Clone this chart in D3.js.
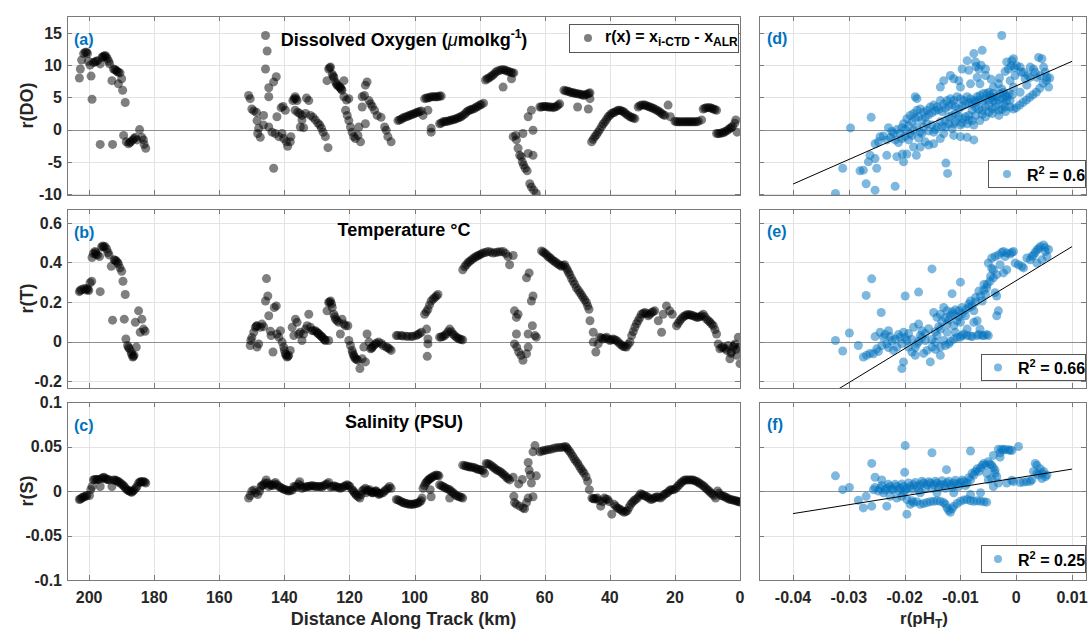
<!doctype html>
<html lang="en">
<head>
<meta charset="utf-8">
<title>Residuals along track</title>
<style>
  body { margin: 0; background: #fff; }
  svg { display: block; font-family: "Liberation Sans", Arial, sans-serif; }
</style>
</head>
<body>
<svg id="chart"></svg>
<script src="https://d3js.org/d3.v7.min.js"></script>
<script>
// ---- values ----
var distTicks = [200, 180, 160, 140, 120, 100, 80, 60, 40, 20, 0];
var phTicks = [-0.04, -0.03, -0.02, -0.01, 0, 0.01];
var doTicks = [-10, -5, 0, 5, 10, 15];
var tTicks = [-0.2, 0, 0.2, 0.4, 0.6];
var sTicks = [-0.1, -0.05, 0, 0.05, 0.1];
var yLabels = ["r(DO)", "r(T)", "r(S)"];
var tagsLeft = ["(a)", "(b)", "(c)"];
var tagsRight = ["(d)", "(e)", "(f)"];
var r2Values = ["0.6", "0.66", "0.25"];

// [distance along track (km), residual]
var doAlong = [
[203.0,8.0],[202.7,9.4],[202.3,10.8],[201.7,11.8],[201.2,12.0],[200.5,11.8],[200.2,10.6],[199.7,10.0],[199.4,8.3],[199.1,4.7],
[198.2,10.5],[197.4,10.7],[196.6,10.2],[196.6,-2.3],[195.8,11.3],[195.1,11.5],[194.4,11.0],[193.7,10.2],[193.0,7.6],[192.8,-2.3],
[192.5,9.4],[191.7,9.2],[191.0,8.9],[190.5,8.8],[191.0,7.1],[190.0,7.9],[189.7,6.1],[188.9,4.2],[189.4,-0.9],[188.6,-1.9],
[187.9,-2.2],[187.2,-1.9],[186.6,-1.6],[185.8,-1.2],[185.3,-1.6],[184.5,0.0],[183.8,-1.2],[183.3,-1.6],[183.1,-2.3],[182.6,-2.9],
[200.8,12.0],[198.7,10.4],[197.8,10.6],[196.0,11.2],[195.4,11.4],[194.8,11.3],[194.0,10.6],[192.1,9.3],[191.4,9.0],[187.5,-2.0],[186.2,-1.4],
[151.0,5.3],[150.5,4.8],[150.0,3.2],[149.4,2.9],[148.6,2.7],[148.4,1.4],[147.9,0.2],[148.2,-0.6],[147.4,-1.2],[145.8,14.6],
[145.3,12.2],[145.8,9.4],[144.8,6.5],[144.8,5.1],[146.4,2.2],[146.4,0.7],[144.8,0.4],[143.8,-0.4],[143.3,-6.0],[143.3,7.4],
[142.5,8.2],[142.3,2.0],[142.8,-0.6],[141.7,-1.1],[141.0,3.4],[140.4,3.6],[139.7,3.0],[140.7,-0.6],[140.2,-1.4],[139.4,-1.9],
[139.0,-2.6],[138.2,-1.9],[138.0,-1.1],[137.4,4.5],[136.7,5.1],[136.1,4.5],[136.7,3.0],[135.9,2.7],[135.3,2.5],[134.6,2.2],
[135.1,0.4],[134.6,1.5],[134.1,0.3],[133.2,4.9],[132.5,4.5],[133.5,2.5],[132.0,2.2],[131.2,1.9],[130.5,1.5],[129.7,1.0],
[129.1,0.7],[128.6,0.2],[128.1,-0.4],[127.4,-1.1],[126.6,-2.8],[126.9,7.6],[126.4,9.4],[125.8,9.7],[125.3,8.6],[124.8,8.1],
[124.3,7.4],[123.8,6.9],[123.3,6.7],[122.8,6.5],[122.3,6.1],[121.7,7.6],[121.7,5.1],[120.9,4.6],[120.2,4.8],[121.2,3.0],
[120.7,2.2],[120.2,1.4],[119.7,0.4],[119.2,-0.4],[118.7,-1.1],[118.2,-1.4],[117.4,-0.9],[117.1,0.4],[116.6,-1.9],[116.1,3.5],
[116.1,5.1],[115.4,5.3],[115.1,6.9],[114.6,7.4],[115.1,0.9],[114.0,4.5],[113.5,4.0],[113.0,3.6],[112.3,3.0],[111.5,2.2],
[110.3,1.9],[109.2,0.4],[108.7,-0.1],[108.2,-1.1],[107.2,-1.9],
[126.1,9.6],[125.0,8.3],[124.0,7.1],[123.0,6.6],[122.5,6.3],[137.0,4.8],[136.4,4.8],
[105.1,1.4],[104.1,1.6],[103.1,1.9],[102.0,2.1],[101.0,2.3],[100.0,2.5],[99.0,2.7],[97.9,2.9],[97.4,2.2],[95.9,3.0],
[94.9,0.2],[94.9,-0.4],[96.9,4.8],[95.9,4.9],[94.9,5.1],[93.8,5.1],[92.8,5.1],[91.8,5.2],[92.3,0.9],[91.3,1.2],
[90.3,1.3],[89.2,1.4],[88.2,1.5],[87.2,1.7],[86.2,1.9],[85.2,2.2],[84.1,2.7],[83.1,3.0],[82.1,3.2],[81.0,3.5],
[80.0,3.8],[78.8,4.1],[78.2,7.7],[77.2,8.0],[76.1,8.4],[75.1,8.9],[73.8,9.2],[72.6,9.3],[71.6,9.1],[70.5,8.9],
[69.5,8.8],[72.8,6.6],[70.2,7.9],[69.7,-1.1],[68.9,-0.9],[68.7,-1.6],[68.2,-2.9],[67.7,-4.0],[67.2,-4.2],[66.9,-5.0],
[66.5,-5.5],[66.0,-6.0],[65.4,-6.4],[66.7,-0.6],[65.1,2.0],[64.1,3.0],[63.6,-0.1],[63.6,-4.0],[65.1,-3.7],[64.6,-8.4],
[64.1,-8.9],[63.4,-9.4],[62.6,-9.9],[61.5,3.5],[60.5,3.6],[59.5,3.6],[58.5,3.5],[57.4,3.4],[56.4,3.6],[55.4,4.0],
[54.1,6.1],[53.1,6.0],[52.1,5.8],[51.1,5.7],[50.1,5.6],[49.0,5.5],[48.0,5.3],[47.0,5.5],[46.1,5.7],[49.9,3.5],
[46.6,3.2],[46.1,4.8],[45.6,-1.9],[44.6,-1.1],[43.6,-0.4],[42.5,0.5],[41.5,1.2],[40.5,2.0],[39.5,2.5],[38.5,2.7],
[37.4,3.0],[36.4,2.9],[35.4,2.6],[34.4,2.2],[33.3,1.9],[32.3,1.7],[31.3,3.5],[30.3,3.8],[29.2,3.8],[28.2,3.6],
[27.2,3.4],[26.2,3.2],[25.1,2.9],[24.1,2.5],[23.1,2.2],[22.1,3.8],[21.4,2.0],[20.0,1.3],[19.0,1.2],[18.0,1.2],
[16.9,1.2],[15.9,1.2],[14.9,1.2],[13.9,1.2],[12.8,1.3],[11.8,1.5],[11.3,3.2],[10.3,3.4],[9.2,3.4],[8.2,3.2],
[7.2,3.0],[7.2,-0.6],[6.2,-0.6],[5.1,-0.5],[4.1,-0.2],[3.1,0.2],[2.3,0.5],[1.6,1.0],[1.3,1.5],[0.9,-0.4],
[104.6,1.5],[103.6,1.8],[102.5,2.0],[101.5,2.2],[100.5,2.4],[99.5,2.6],[98.5,2.8],[96.4,4.9],[95.4,5.0],[94.3,5.1],
[93.3,5.1],[92.3,5.2],[91.8,1.0],[90.8,1.2],[89.7,1.3],[88.7,1.5],[87.7,1.6],[86.7,1.8],[85.7,2.0],[84.6,2.4],
[83.6,2.9],[82.6,3.1],[81.5,3.3],[80.5,3.6],[79.5,3.9],[77.7,7.9],[76.6,8.2],[75.6,8.6],[74.5,9.1],[73.2,9.3],
[72.1,9.2],[71.0,9.0],[70.0,8.8],[61.0,3.5],[60.0,3.6],[59.0,3.5],[58.0,3.5],[56.9,3.5],[55.9,3.8],[53.6,6.0],
[52.6,5.9],[51.6,5.7],[50.6,5.6],[49.5,5.5],[48.5,5.4],[47.5,5.4],[46.5,5.6],[45.1,-1.5],[44.1,-0.8],[43.1,0.0],
[42.0,0.9],[41.0,1.6],[40.0,2.2],[39.0,2.6],[37.9,2.9],[36.9,3.0],[35.9,2.8],[34.9,2.4],[33.8,2.0],[32.8,1.8],
[30.8,3.7],[29.7,3.8],[28.7,3.7],[27.7,3.5],[26.7,3.3],[25.6,3.0],[24.6,2.7],[23.6,2.3],[19.5,1.2],[18.5,1.2],
[17.4,1.2],[16.4,1.2],[15.4,1.2],[14.4,1.2],[13.3,1.2],[10.8,3.3],[9.7,3.4],[8.7,3.3],[7.7,3.1],[6.7,-0.6],
[5.6,-0.5],[4.6,-0.3],[3.6,0.0],[2.7,0.3]
];

var tAlong = [
[203.0,0.252],[202.3,0.263],[201.5,0.268],[201.0,0.26],[200.7,0.268],[200.1,0.258],[199.7,0.297],[199.2,0.305],[199.1,0.425],[198.7,0.445],
[198.2,0.455],[197.9,0.44],[197.4,0.438],[196.8,0.43],[196.6,0.252],[195.8,0.483],[195.5,0.478],[195.1,0.48],[194.6,0.468],[193.9,0.438],
[193.2,0.38],[192.8,0.108],[192.3,0.413],[191.7,0.408],[191.0,0.392],[190.5,0.372],[190.0,0.355],[189.6,0.305],[189.2,0.113],[188.9,0.238],
[188.7,0.013],[188.2,-0.02],[187.6,-0.037],[187.1,-0.053],[186.6,-0.078],[186.2,-0.07],[185.5,-0.028],[185.8,0.097],[184.8,0.155],[183.8,0.113],
[183.3,0.063],[182.8,0.052],[184.3,0.047],
[202.7,0.258],[200.4,0.263],[198.0,0.45],[196.2,0.478],[194.2,0.45],[192.0,0.41],[191.3,0.4],[187.9,-0.03],[186.9,-0.065],[186.4,-0.075],
[150.5,-0.02],[150.3,0.005],[150.0,0.02],[149.4,0.047],[148.9,0.072],[148.4,0.08],[147.9,-0.012],[148.4,-0.028],[147.4,0.072],[146.9,0.088],
[146.4,0.075],[145.8,0.205],[145.5,0.318],[145.1,0.23],[144.8,0.13],[144.3,0.052],[144.1,0.03],[143.5,-0.053],[143.1,0.172],[142.5,0.18],
[142.3,0.038],[141.7,0.022],[141.2,0.055],[140.7,-0.003],[140.2,-0.028],[139.7,-0.062],[139.2,-0.078],[138.7,-0.07],[138.2,-0.045],[137.6,0.072],
[137.1,0.03],[136.6,0.113],[136.1,0.097],[135.6,0.038],[135.1,0.047],[134.6,0.005],[134.1,0.038],[133.5,0.063],[132.5,0.138],[133.0,0.08],
[132.0,0.072],[131.5,0.055],[130.5,0.055],[130.0,0.047],[129.4,0.038],[128.9,0.03],[128.4,0.022],[127.9,0.013],[127.4,0.005],[126.4,0.005],
[126.9,0.155],[126.4,0.197],[125.8,0.205],[125.3,0.172],[124.8,0.138],[124.3,0.113],[123.8,0.105],[123.3,0.097],[122.8,0.038],[122.3,0.113],
[121.7,0.088],[121.2,0.08],[120.5,0.08],[120.2,0.005],[119.7,-0.02],[119.2,-0.045],[118.7,-0.07],[118.2,-0.087],[117.4,-0.095],[116.8,-0.137],
[116.1,-0.087],[115.6,-0.028],[115.1,-0.103],[114.6,0.038],[114.0,-0.003],[113.5,-0.037],[113.0,-0.028],[112.5,-0.02],[111.7,-0.008],[111.0,-0.003],
[109.7,-0.02],[108.7,-0.028],[107.7,-0.037],[107.2,-0.045],
[148.6,0.078],[140.0,-0.045],[139.5,-0.07],[138.9,-0.075],[131.0,0.055],[129.7,0.042],[128.6,0.026],[127.6,0.009],[126.1,0.2],[125.5,0.19],
[124.5,0.125],[119.0,-0.058],[118.5,-0.078],[117.8,-0.09],[113.2,-0.033],[112.0,-0.012],[110.2,-0.01],[108.2,-0.032],
[105.6,0.03],[104.1,0.03],[102.6,0.027],[101.0,0.025],[99.5,0.03],[97.9,0.047],[96.9,0.138],[95.9,0.163],[94.9,0.205],[93.8,0.222],
[92.8,0.238],[96.3,0.063],[95.9,0.013],[95.9,-0.012],[96.1,-0.075],[92.3,0.022],[91.3,0.025],[90.3,0.038],[89.2,0.063],[88.2,0.038],
[87.2,0.022],[86.2,0.013],[85.2,0.008],[85.2,0.363],[84.1,0.388],[83.1,0.405],[82.1,0.418],[81.0,0.43],[80.0,0.438],[79.0,0.447],
[77.5,0.455],[75.9,0.447],[74.4,0.452],[72.8,0.455],[71.3,0.43],[70.8,0.388],[69.7,0.435],[69.3,0.155],[68.7,0.122],[68.2,0.138],
[68.7,0.038],[69.3,-0.012],[68.6,-0.028],[68.0,-0.053],[67.3,-0.07],[66.7,-0.095],[65.6,-0.062],[65.1,-0.028],[65.1,0.038],[65.6,0.322],
[64.8,0.347],[64.1,0.205],[63.6,0.23],[63.8,0.08],[63.0,0.03],[62.6,0.022],[61.0,0.458],[60.0,0.447],[59.0,0.43],[58.0,0.418],
[57.0,0.405],[55.9,0.392],[54.9,0.38],[53.9,0.388],[53.1,0.363],[52.3,0.338],[51.3,0.305],[50.3,0.272],[49.2,0.247],[48.2,0.222],
[47.2,0.197],[46.4,0.163],[46.1,0.105],[45.1,0.047],[45.1,-0.003],[44.3,-0.053],[43.6,-0.012],[43.1,0.022],[42.1,0.013],[41.0,0.022],
[40.0,0.005],[39.0,0.013],[38.0,0.005],[36.9,-0.012],[35.9,-0.025],[34.9,-0.028],[33.8,-0.003],[33.3,0.03],[32.3,0.072],[31.3,0.105],
[30.3,0.138],[29.2,0.147],[28.2,0.13],[27.2,0.147],[26.2,0.155],[25.1,0.105],[24.1,0.047],[23.6,0.138],[22.6,0.18],[21.6,0.155],
[20.8,0.138],[19.5,0.08],[18.5,0.105],[17.4,0.125],[16.4,0.135],[15.4,0.135],[14.4,0.13],[13.3,0.122],[12.3,0.125],[11.3,0.138],
[10.3,0.113],[9.2,0.097],[8.2,0.08],[7.2,0.038],[6.7,-0.012],[6.2,-0.037],[5.1,-0.028],[4.1,-0.045],[3.6,-0.02],[3.1,-0.087],
[2.6,-0.053],[2.1,-0.028],[1.5,-0.012],[1.0,-0.07],[0.5,0.022],[0.0,-0.112],[0.2,-0.028],
[105.1,0.03],[103.6,0.028],[102.0,0.026],[100.5,0.027],[99.0,0.035],[98.5,0.04],[96.4,0.15],[95.4,0.185],[94.3,0.215],[93.3,0.23],
[91.8,0.023],[90.8,0.03],[89.7,0.05],[88.7,0.05],[87.7,0.03],[86.7,0.018],[85.7,0.01],[84.6,0.378],[83.6,0.398],[82.6,0.412],
[81.5,0.425],[80.5,0.435],[79.5,0.443],[78.2,0.45],[76.7,0.452],[75.1,0.45],[73.6,0.454],[72.0,0.445],[60.5,0.452],[59.5,0.44],
[58.5,0.425],[57.5,0.41],[56.5,0.398],[55.4,0.386],[54.4,0.384],[53.5,0.375],[52.7,0.35],[51.8,0.32],[50.8,0.29],[49.7,0.26],
[48.7,0.235],[47.7,0.21],[46.8,0.18],[42.6,0.018],[41.5,0.017],[40.5,0.013],[39.5,0.009],[38.5,0.009],[37.4,-0.003],[36.4,-0.018],
[35.4,-0.027],[34.4,-0.015],[32.8,0.05],[31.8,0.09],[30.8,0.12],[29.7,0.143],[28.7,0.14],[27.7,0.138],[26.7,0.15],[19.0,0.092],
[18.0,0.115],[16.9,0.13],[15.9,0.135],[14.9,0.133],[13.8,0.126],[12.8,0.123],[11.8,0.13],[10.8,0.125],[9.7,0.105],[8.7,0.088],
[7.7,0.06],[5.6,-0.03],[4.6,-0.035],[2.8,-0.06],[1.8,-0.02],[1.2,-0.04]
];

var sAlong = [
[203.0,-0.0095],[202.3,-0.008],[201.5,-0.0065],[200.7,-0.005],[199.9,-0.005],[199.5,0.0015],[199.1,0.005],[198.7,0.0125],[197.8,0.013],[197.0,0.013],
[196.6,0.005],[196.1,0.014],[195.4,0.0155],[194.6,0.013],[193.7,0.0125],[193.0,0.005],[192.5,0.0125],[191.7,0.012],[190.9,0.0105],[190.0,0.008],
[189.2,0.005],[188.4,0.0015],[187.6,0.0],[186.9,-0.0015],[186.2,0.001],[185.3,0.005],[184.8,0.009],[184.1,0.0105],[183.3,0.0105],[182.6,0.009],
[202.7,-0.009],[201.9,-0.007],[201.1,-0.006],[198.3,0.013],[197.4,0.013],[195.8,0.015],[195.0,0.014],[194.2,0.0128],[192.1,0.012],[191.3,0.011],
[190.5,0.009],[189.6,0.0065],[188.8,0.003],[188.0,0.0005],[187.2,-0.001],[186.6,0.0],[185.7,0.003],[184.4,0.01],[183.7,0.0105],[182.9,0.01],
[151.0,-0.008],[150.5,-0.005],[150.0,0.0],[149.4,0.001],[148.9,-0.002],[148.2,-0.004],[147.6,0.0],[147.2,0.005],[146.4,0.007],[145.6,0.0125],
[144.8,0.005],[144.3,0.007],[143.5,0.006],[142.8,0.0095],[141.7,0.005],[140.7,0.003],[139.7,0.0015],[138.7,0.0],[137.6,0.001],[137.1,0.005],
[136.1,0.0045],[135.3,0.0105],[134.6,0.003],[133.5,0.0045],[132.5,0.005],[131.5,0.006],[130.5,0.005],[129.4,0.005],[128.4,0.0045],[127.4,0.007],
[126.4,0.0095],[125.8,0.0045],[124.8,0.006],[123.8,0.0045],[122.8,0.003],[121.7,0.005],[120.7,0.007],[119.9,0.005],[119.2,0.0015],[118.5,-0.002],
[117.8,-0.005],[116.8,-0.008],[116.1,0.0],[115.1,0.003],[114.0,0.0],[113.0,-0.002],[112.0,0.0],[111.0,-0.004],
[114.9,-0.002],[113.8,0.0015],[112.8,-0.002],[111.8,0.0],[110.8,-0.003],[109.7,-0.002],[108.7,0.0015],[107.7,0.005],[107.2,0.003],
[146.9,0.006],[146.0,0.009],[145.2,0.009],[144.0,0.0065],[143.1,0.008],[142.2,0.007],[141.2,0.004],[140.2,0.002],[139.2,0.0008],[138.2,0.0005],
[136.6,0.0048],[135.7,0.008],[135.0,0.006],[134.0,0.004],[133.0,0.005],[132.0,0.0055],[131.0,0.0055],[130.0,0.005],[128.9,0.005],[127.9,0.006],
[126.9,0.008],[125.3,0.005],[124.3,0.005],[123.3,0.004],[122.3,0.004],[121.2,0.006],[120.3,0.006],[118.8,0.0],[118.1,-0.0035],[117.3,-0.0065],
[116.4,-0.004],[115.6,0.0015],[114.5,0.001],[113.4,-0.001],[112.4,-0.001],[111.4,-0.002],[110.3,-0.0025],[109.2,0.0],[108.2,0.003],
[105.6,-0.0095],[104.6,-0.011],[103.6,-0.013],[102.6,-0.014],[101.5,-0.015],[100.5,-0.015],[99.5,-0.014],[98.5,-0.0125],[97.7,-0.008],[97.4,0.003],
[96.6,0.009],[95.9,0.012],[95.2,0.014],[94.4,0.016],[93.3,0.018],[92.5,0.017],[95.2,0.0015],[94.9,-0.0065],[92.3,0.007],[91.3,0.005],
[90.3,0.003],[89.2,0.0015],[89.2,-0.008],[88.2,-0.002],[87.2,-0.005],[86.2,-0.0065],[85.2,-0.008],[85.2,0.029],[84.1,0.028],[83.1,0.027],
[82.1,0.0265],[81.0,0.025],[80.0,0.024],[79.0,0.023],[78.5,0.02],[78.0,0.031],[77.0,0.030],[75.9,0.027],[74.9,0.024],[73.8,0.022],
[72.8,0.019],[71.8,0.0155],[70.8,0.0125],[69.7,0.0155],[69.5,-0.006],[69.3,-0.013],[68.7,-0.015],[68.0,0.008],[67.7,-0.017],[66.9,0.013],
[66.7,-0.019],[66.2,-0.02],[65.6,-0.013],[65.1,0.032],[64.8,0.0235],[64.4,0.018],[64.1,0.009],[65.1,-0.008],[63.6,-0.0065],[63.6,0.044],
[63.0,0.051],[62.6,0.017],[60.8,0.045],[59.5,0.046],[58.0,0.047],[56.4,0.0485],[54.9,0.049],[53.6,0.05],[52.9,0.047],[51.9,0.042],
[50.9,0.036],[49.9,0.031],[48.9,0.025],[47.9,0.02],[46.8,0.011],[46.3,0.0015],[45.5,-0.008],[44.8,-0.009],[43.8,-0.008],[42.8,-0.017],
[41.7,-0.008],[40.7,-0.0095],[39.4,-0.026],[38.7,-0.015],[37.7,-0.019],[36.7,-0.021],[35.6,-0.024],[34.6,-0.022],[33.6,-0.015],[32.6,-0.011],
[31.5,-0.008],[30.5,-0.003],[29.5,-0.005],[28.5,-0.0065],[27.4,-0.0095],[26.4,-0.008],[25.4,-0.0065],[24.4,-0.008],[23.3,-0.004],[22.3,-0.002],
[21.3,0.0015],[20.3,0.0015],[19.2,0.005],[18.2,0.009],[17.2,0.012],[16.2,0.0125],[15.1,0.0125],[14.1,0.012],[13.1,0.0105],[12.1,0.008],
[11.0,0.005],[10.0,0.0015],[9.0,-0.002],[8.0,-0.005],[6.9,0.0],[7.5,-0.008],[5.9,-0.005],[4.9,-0.006],[3.9,-0.008],[2.9,-0.0095],
[1.8,-0.0105],[0.8,-0.0115],[0.0,-0.0125],
[105.1,-0.01],[104.1,-0.012],[103.1,-0.0135],[102.1,-0.0145],[101.0,-0.015],[100.0,-0.0145],[99.0,-0.0135],[98.0,-0.011],[97.0,0.006],[96.2,0.0105],
[95.5,0.013],[94.8,0.015],[93.9,0.017],[92.9,0.0175],[91.8,0.006],[90.8,0.004],[89.7,0.002],[88.7,-0.0005],[87.7,-0.0035],[86.7,-0.006],
[85.7,-0.007],[84.6,0.0285],[83.6,0.0275],[82.6,0.027],[81.5,0.026],[80.5,0.0245],[79.5,0.0235],[77.5,0.0305],[76.4,0.0285],[75.4,0.0255],
[74.4,0.023],[73.3,0.0205],[72.3,0.0175],[71.3,0.014],[61.5,0.044],[60.2,0.0455],[58.8,0.0465],[57.2,0.048],[55.6,0.0488],[54.2,0.0495],
[53.2,0.0485],[52.4,0.0445],[51.4,0.039],[50.4,0.0335],[49.4,0.028],[48.4,0.0225],[47.3,0.016],[45.1,-0.0085],[44.3,-0.0085],[43.3,-0.011],
[42.2,-0.012],[41.2,-0.009],[40.2,-0.012],[38.2,-0.017],[37.2,-0.02],[36.2,-0.0225],[35.1,-0.023],[34.1,-0.0185],[33.1,-0.013],[32.1,-0.0095],
[31.0,-0.0055],[30.0,-0.004],[29.0,-0.006],[28.0,-0.008],[26.9,-0.009],[25.9,-0.007],[24.9,-0.007],[23.8,-0.006],[22.8,-0.003],[21.8,0.0],
[20.8,0.0015],[19.7,0.003],[18.7,0.007],[17.7,0.0105],[16.7,0.0125],[15.6,0.0125],[14.6,0.0125],[13.6,0.011],[12.6,0.009],[11.5,0.0065],
[10.5,0.003],[9.5,0.0],[8.5,-0.0035],[6.4,-0.0025],[5.4,-0.0055],[4.4,-0.007],[3.4,-0.009],[2.4,-0.01],[1.3,-0.011],[0.4,-0.012]
];

// [r(pH_T), residual]
var doVsPh = [
[-0.0026,14.6],[-0.0324,-9.9],[-0.0253,-9.4],[-0.0217,-8.8],[-0.0269,-8.4],[-0.0311,-6.0],[-0.028,-6.4],[-0.0274,-6.3],[-0.025,-6.0],[-0.0265,-5.0],
[-0.0253,-4.5],[-0.0262,-4.0],[-0.0297,0.26],[-0.026,1.9],[-0.0136,6.6],[-0.0126,-5.2],[-0.0123,-6.8],[-0.0181,5.1],[-0.0178,4.8],
[-0.0253,-2.2],[-0.0244,-1.1],[-0.0247,-1.9],[-0.0232,-1.6],[-0.0232,-4.0],[-0.0214,-4.2],[-0.0202,-5.0],[-0.0204,-3.8],[-0.0196,-3.8],[-0.0179,-4.0],
[-0.022,-0.6],[-0.0229,0.3],[-0.0223,-0.3],[-0.0214,0.0],[-0.0208,-0.6],[-0.0199,-1.1],[-0.0193,-1.6],[-0.019,-0.6],[-0.0184,-2.7],[-0.0172,-2.7],
[-0.0163,-1.9],[-0.0157,-2.4],[-0.0148,-2.2],[-0.0136,-1.4],[-0.013,-0.6],[-0.0112,-0.9],[-0.01,-1.1],[-0.0088,-1.2],[-0.0076,-1.6],[-0.0115,0.15],
[-0.0202,0.9],[-0.0196,1.7],[-0.019,2.2],[-0.0184,2.5],[-0.0178,3.0],[-0.0172,3.2],[-0.0166,2.7],[-0.016,3.0],[-0.0154,3.5],[-0.0148,3.8],
[-0.0142,3.5],[-0.0136,4.5],[-0.013,4.0],[-0.0124,4.5],[-0.0118,4.8],[-0.0112,4.5],[-0.0106,5.1],[-0.01,4.8],[-0.0094,4.5],[-0.0088,5.1],
[-0.0082,4.8],[-0.0076,4.5],[-0.007,5.1],[-0.0065,5.3],[-0.0059,5.6],[-0.0053,5.6],[-0.0047,5.3],[-0.0041,5.6],[-0.0035,5.1],[-0.0029,5.6],
[-0.0023,5.8],[-0.0017,5.1],[-0.0011,4.5],
[-0.0184,-0.1],[-0.0178,0.4],[-0.0172,-0.4],[-0.0166,0.4],[-0.016,0.9],[-0.0151,0.7],[-0.0142,0.4],[-0.0136,1.2],[-0.0127,1.4],[-0.0121,2.0],
[-0.0115,2.2],[-0.0109,2.5],[-0.0103,2.0],[-0.0097,1.7],[-0.0091,2.0],[-0.0085,2.2],[-0.0079,3.0],[-0.0073,3.5],[-0.0067,3.2],[-0.0061,3.0],
[-0.0055,3.5],[-0.0049,3.8],[-0.0043,3.2],[-0.0037,3.5],[-0.0031,3.0],[-0.0026,3.2],[-0.002,3.5],[-0.0011,3.5],[-0.0005,3.2],[-0.0079,1.4],
[-0.0088,0.9],[-0.01,0.7],[-0.0127,0.4],[-0.0148,-0.4],
[-0.0118,8.4],[-0.0112,7.9],[-0.0103,7.6],[-0.0097,9.4],[-0.0088,10.7],[-0.0085,9.2],[-0.0076,11.8],[-0.0073,10.5],[-0.007,8.1],[-0.0067,9.4],
[-0.0065,7.1],[-0.0061,12.3],[-0.0055,9.4],[-0.0082,7.1],[-0.01,6.6],[-0.013,7.6],[-0.0049,5.8],[-0.0041,6.6],[-0.0032,7.1],[-0.0026,6.3],
[-0.0017,10.5],[-0.0014,9.4],[-0.0008,10.7],[-0.0005,11.0],[-0.0002,8.4],[0.0001,9.9],[0.0007,9.7],[0.0013,8.9],[0.0019,6.9],[0.0025,9.7],
[0.0031,9.4],[0.0034,8.9],[0.0037,8.1],[0.004,11.2],[0.0046,11.0],[0.0049,9.7],[0.0052,8.9],[0.0055,8.1],[0.0058,6.6],[0.0043,8.4],
[0.0025,8.1],[0.0016,7.9],[0.0007,5.8],[-0.0005,6.6],[-0.0017,4.5],[-0.0011,7.6],[-0.0023,4.0],[-0.0041,4.5],[-0.0049,2.7],[-0.0065,1.4],
[-0.0076,0.7],[-0.0112,0.9],
[-0.0205,0.3],[-0.0199,0.0],[-0.0193,0.6],[-0.0187,1.2],[-0.0181,1.8],[-0.0175,2.0],[-0.0169,1.5],[-0.0163,1.9],[-0.0157,2.3],[-0.0151,2.6],
[-0.0145,2.9],[-0.0139,3.1],[-0.0133,2.8],[-0.0127,3.3],[-0.0121,3.6],[-0.0115,3.9],[-0.0109,3.6],[-0.0103,3.2],[-0.0097,3.6],[-0.0091,3.9],
[-0.0085,4.2],[-0.0079,4.0],[-0.0073,4.3],[-0.0067,4.6],[-0.0061,4.4],[-0.0055,4.8],[-0.0049,4.6],[-0.0043,5.0],[-0.0037,4.3],[-0.0031,4.6],
[-0.0025,4.8],[-0.0019,5.3],[-0.0013,5.6],[-0.0007,5.4],[-0.0225,-1.2],[-0.0238,-1.0],[-0.0217,-1.6],[-0.0211,-2.0],[-0.0205,-1.4],[-0.0187,-0.9],
[-0.0175,-1.3],[-0.0169,-0.6],[-0.0157,-0.2],[-0.0145,0.0],[-0.0133,0.5],[-0.0121,0.9],[-0.0109,1.2],[-0.0097,1.0],[-0.0085,1.5],[-0.0073,2.2],
[-0.0061,2.4],[-0.0055,2.0],[-0.0043,2.5],[-0.0031,2.2],[-0.0019,2.8],[0.0,3.4],[0.0006,3.8],[0.0012,4.2],[0.0018,4.6],[0.0024,5.0],
[0.003,5.4],[0.0036,5.8],[0.0042,6.4],[0.0048,7.2],[0.0054,7.6],[0.006,8.0],[0.0021,8.4],[0.0009,8.9],[-0.0003,9.6],[-0.0009,9.9],
[-0.002,9.0],[-0.003,8.0],[-0.0045,7.8],[-0.0055,8.4],[-0.0063,10.0],[-0.0072,9.8]
];

var tVsPh = [
[-0.0324,0.005],[-0.0311,-0.048],[-0.0299,0.043],[-0.0283,-0.02],[-0.0269,0.233],[-0.0259,0.317],[-0.0242,0.147],[-0.0199,0.23],[-0.0175,0.25],[-0.0151,0.367],
[-0.0205,-0.137],[-0.0154,-0.103],[-0.0202,-0.103],[-0.0136,-0.07],[-0.01,0.3],[-0.0115,0.242],
[-0.0274,-0.078],[-0.0268,-0.07],[-0.0256,-0.062],[-0.025,-0.037],[-0.0253,0.025],[-0.0244,0.047],[-0.0238,0.022],[-0.0229,0.055],[-0.0232,-0.012],[-0.0223,0.005],
[-0.022,-0.045],[-0.0214,-0.028],[-0.0208,0.022],[-0.0202,0.047],[-0.0196,0.005],[-0.0193,-0.028],[-0.0187,-0.053],[-0.0181,-0.07],[-0.0178,-0.012],[-0.0172,0.03],
[-0.0169,0.055],[-0.0175,0.088],[-0.0184,0.072],[-0.0163,0.005],[-0.016,-0.045],[-0.0151,-0.028],[-0.0145,-0.003],[-0.0142,0.03],[-0.0136,-0.028],[-0.013,0.005],
[-0.0124,0.047],[-0.0121,-0.012],[-0.0112,0.013],[-0.0109,0.047],[-0.01,0.022],[-0.0094,0.038],[-0.0088,0.03],[-0.0079,0.025],[-0.007,0.03],[-0.0061,0.03],
[-0.0053,0.035],[-0.005,0.03],
[-0.0148,0.147],[-0.0142,0.122],[-0.0136,0.138],[-0.013,0.172],[-0.0124,0.155],[-0.0118,0.13],[-0.0112,0.138],[-0.0106,0.105],[-0.0103,0.155],[-0.0097,0.172],
[-0.0091,0.13],[-0.0085,0.172],[-0.0082,0.205],[-0.0076,0.155],[-0.0073,0.222],[-0.0067,0.255],[-0.007,0.105],[-0.0061,0.205],[-0.0055,0.238],[-0.0053,0.272],
[-0.0047,0.305],[-0.0041,0.322],[-0.0038,0.247],[-0.0035,0.23],[-0.0032,0.155],[-0.0035,0.13],[-0.0112,0.08],[-0.0124,0.088],[-0.0136,0.063],[-0.01,0.097],
[-0.0088,0.063],[-0.0076,0.097],[-0.0065,0.063],
[-0.005,0.397],[-0.0044,0.422],[-0.0038,0.43],[-0.0032,0.438],[-0.0023,0.455],[-0.0017,0.447],[-0.0011,0.442],[-0.0005,0.455],[-0.0002,0.397],[0.0004,0.388],
[-0.0029,0.388],[-0.0023,0.347],[-0.0017,0.363],[0.0013,0.372],[0.0019,0.422],[0.0025,0.413],[0.0031,0.438],[0.0037,0.463],[0.0043,0.48],[0.0049,0.488],
[0.0052,0.455],[0.0055,0.43],[0.0046,0.413],[0.0037,0.397],[-0.0041,0.363],[-0.0035,0.338],[-0.0058,0.288],
[-0.0235,0.035],[-0.0226,0.025],[-0.0217,0.012],[-0.0211,0.035],[-0.0205,-0.01],[-0.0199,0.02],[-0.0193,0.04],[-0.0187,0.01],[-0.0181,-0.03],[-0.0175,0.0],
[-0.0169,0.02],[-0.0163,0.04],[-0.0157,0.065],[-0.0151,0.01],[-0.0145,0.05],[-0.0139,0.075],[-0.0133,0.1],[-0.0127,0.12],[-0.0121,0.11],[-0.0115,0.15],
[-0.0109,0.16],[-0.0103,0.125],[-0.0097,0.14],[-0.0091,0.16],[-0.0085,0.19],[-0.0079,0.18],[-0.0073,0.2],[-0.0064,0.23],[-0.0058,0.26],[-0.0052,0.29],
[-0.0046,0.33],[-0.0044,0.37],[-0.0026,0.45],[-0.002,0.43],[-0.0008,0.45],[0.001,0.38],[0.0028,0.43],[0.0034,0.45],[0.004,0.47],[0.0052,0.475],
[0.0058,0.465],[-0.0106,0.02],[-0.0097,0.03],[-0.0082,0.028],[-0.0067,0.035],[-0.0058,0.03],[-0.0166,-0.06],[-0.0145,-0.04],[-0.0127,-0.02],[-0.0118,0.0],
[-0.0262,-0.06],[-0.0247,-0.05],[-0.0241,-0.02],[-0.0229,-0.03]
];

var sVsPh = [
[-0.0324,0.017],[-0.0311,0.0015],[-0.0299,0.004],[-0.0259,0.031],[-0.0253,0.0155],[-0.0241,0.0125],[-0.02,0.021],[-0.0199,0.051],[-0.0151,0.043],[-0.0125,0.024],
[-0.0082,0.045],[-0.0196,-0.026],[-0.0283,-0.0105],[-0.0274,-0.019],[-0.0269,-0.006],[-0.0259,-0.017],[-0.0232,-0.017],
[-0.0256,0.0015],[-0.0244,0.003],[-0.0238,-0.002],[-0.0232,0.003],[-0.0226,0.005],[-0.022,0.0015],[-0.0214,0.005],[-0.0208,0.003],[-0.0202,0.005],[-0.0196,0.003],
[-0.019,0.005],[-0.0184,0.007],[-0.0178,0.005],[-0.0172,0.007],[-0.0166,0.009],[-0.016,0.007],[-0.0154,0.009],[-0.0148,0.007],[-0.0142,0.009],[-0.0136,0.007],
[-0.013,0.007],[-0.0124,0.009],[-0.0118,0.007],[-0.0112,0.009],[-0.0106,0.008],[-0.01,0.0095],[-0.0094,0.0105],[-0.0088,0.009],[-0.0082,0.0125],[-0.0076,0.018],
[-0.007,0.025],[-0.0067,0.022],[-0.0061,0.029],[-0.0055,0.029],[-0.005,0.033],[-0.0044,0.029],[-0.0038,0.0235],[-0.0035,0.016],[-0.0032,0.009],[-0.0029,0.038],
[-0.0032,0.047],[-0.0026,0.047],[-0.002,0.047],[-0.0014,0.046],[-0.0008,0.0455],[0.0004,0.05],[-0.0044,0.014],[-0.005,0.0125],[-0.0053,0.02],[-0.0041,0.04],
[-0.0017,0.009],[-0.0005,0.0105],[0.0007,0.0095],[0.0019,0.0105],[0.0028,0.0125],[0.0034,0.031],[0.0037,0.029],[0.0043,0.025],[0.0049,0.022],[0.0055,0.018],
[0.0031,0.022],[0.004,0.018],[0.0046,0.014],
[-0.0226,-0.006],[-0.0214,-0.008],[-0.0196,-0.0095],[-0.019,-0.015],[-0.0184,-0.013],[-0.0172,-0.015],[-0.016,-0.013],[-0.0148,-0.0115],[-0.0136,-0.0115],[-0.0127,-0.015],
[-0.0121,-0.022],[-0.0118,-0.024],[-0.0112,-0.017],[-0.01,-0.0115],[-0.0088,-0.0095],[-0.0076,-0.0115],[-0.0064,-0.0115],[-0.0053,-0.0125],[-0.0202,-0.002],[-0.0172,-0.002],
[-0.0142,-0.002],[-0.0112,-0.002],[-0.0082,-0.004],[-0.0064,-0.002],[-0.0041,0.005],
[-0.0253,0.004],[-0.0247,0.0],[-0.0241,0.006],[-0.0235,0.001],[-0.0229,0.0075],[-0.0223,0.002],[-0.0217,0.0075],[-0.0211,0.001],[-0.0205,0.008],[-0.0199,0.0005],
[-0.0193,0.009],[-0.0187,0.002],[-0.0181,0.0095],[-0.0175,0.001],[-0.0169,0.011],[-0.0163,0.003],[-0.0157,0.0105],[-0.0151,0.003],[-0.0145,0.011],[-0.0139,0.004],
[-0.0133,0.0115],[-0.0127,0.003],[-0.0121,0.011],[-0.0115,0.004],[-0.0109,0.012],[-0.0103,0.005],[-0.0097,0.0125],[-0.0091,0.006],[-0.0085,0.015],[-0.0079,0.02],
[-0.0073,0.022],[-0.0064,0.026],[-0.0058,0.031],[-0.0047,0.03],[-0.0041,0.026],[-0.0038,0.02],[-0.0029,0.043],[-0.0023,0.046],[-0.0011,0.046],[-0.0008,0.012],
[0.0013,0.01],[0.0025,0.011],[0.0037,0.02],[0.0046,0.02],[0.0052,0.016],[-0.0205,-0.006],[-0.0187,-0.011],[-0.0178,-0.012],[-0.0166,-0.014],[-0.0154,-0.012],
[-0.0142,-0.011],[-0.013,-0.013],[-0.0124,-0.019],[-0.0115,-0.02],[-0.0106,-0.014],[-0.0094,-0.01],[-0.0082,-0.011],[-0.007,-0.011],[-0.0058,-0.012]
];

// least squares lines, end points
var doFit = [[-0.04, -8.45], [0.01, 10.6]];
var tFit = [[-0.04, -0.38], [0.01, 0.48]];
var sFit = [[-0.04, -0.0254], [0.01, 0.0246]];

// ---- layout ----
var width = 1089, height = 630;
var svg = d3.select("#chart").attr("width", width).attr("height", height);

var xDist = d3.scaleLinear().domain([206.8, 0]).range([67, 740]);
var xPh = d3.scaleLinear().domain([-0.0461, 0.0125]).range([759, 1086]);

var rows = [
  { y: d3.scaleLinear().domain([-10.15, 17.63]).range([195, 16]), ticks: doTicks, along: doAlong, vs: doVsPh, fit: doFit },
  { y: d3.scaleLinear().domain([-0.235, 0.67]).range([388, 209]), ticks: tTicks, along: tAlong, vs: tVsPh, fit: tFit },
  { y: d3.scaleLinear().domain([-0.1, 0.1]).range([580, 402]), ticks: sTicks, along: sAlong, vs: sVsPh, fit: sFit }
];

var gridCol = "#e3e3e3", boxCol = "#7a7a7a", zeroCol = "#8f8f8f", tickTxt = "#262626";
var blue = "#0072BD";
var clipN = 0;
var px = function(v) { return Math.round(v) + 0.5; };

function axesBox(x, y, xt, yt) {
  var x0 = x.range()[0], x1 = x.range()[1], yb = y.range()[0], yt0 = y.range()[1];
  var g = svg.append("g");
  g.selectAll("line.gx").data(xt).join("line").attr("class", "gx")
    .attr("x1", function(d) { return px(x(d)); }).attr("x2", function(d) { return px(x(d)); })
    .attr("y1", yt0).attr("y2", yb).attr("stroke", gridCol);
  g.selectAll("line.gy").data(yt).join("line").attr("class", "gy")
    .attr("x1", x0).attr("x2", x1)
    .attr("y1", function(d) { return px(y(d)); }).attr("y2", function(d) { return px(y(d)); })
    .attr("stroke", gridCol);
  g.append("line").attr("x1", x0).attr("x2", x1).attr("y1", px(y(0))).attr("y2", px(y(0)))
    .attr("stroke", zeroCol);
  var id = "clip" + (clipN++);
  svg.append("clipPath").attr("id", id).append("rect")
    .attr("x", x0).attr("y", yt0).attr("width", x1 - x0).attr("height", yb - yt0);
  return { g: g, clip: "url(#" + id + ")" };
}

function frame(x, y, xt, yt) {
  var x0 = x.range()[0], x1 = x.range()[1], yb = y.range()[0], yt0 = y.range()[1];
  var g = svg.append("g").attr("stroke", boxCol).attr("fill", "none");
  var tl = 5;
  xt.forEach(function(d) {
    g.append("line").attr("x1", px(x(d))).attr("x2", px(x(d))).attr("y1", yb).attr("y2", yb - tl);
    g.append("line").attr("x1", px(x(d))).attr("x2", px(x(d))).attr("y1", yt0).attr("y2", yt0 + tl);
  });
  yt.forEach(function(d) {
    g.append("line").attr("y1", px(y(d))).attr("y2", px(y(d))).attr("x1", x0).attr("x2", x0 + tl);
    g.append("line").attr("y1", px(y(d))).attr("y2", px(y(d))).attr("x1", x1).attr("x2", x1 - tl);
  });
  g.append("rect").attr("x", px(x0)).attr("y", px(yt0))
    .attr("width", Math.round(x1 - x0)).attr("height", Math.round(yb - yt0));
}

function dots(layer, clip, data, x, y, color) {
  layer.append("g").attr("clip-path", clip)
    .selectAll("circle").data(data).join("circle")
    .attr("cx", function(d) { return x(d[0]); })
    .attr("cy", function(d) { return y(d[1]); })
    .attr("r", 4.5)
    .attr("fill", color).attr("fill-opacity", 0.5);
}

rows.forEach(function(row, i) {
  var y = row.y;
  // left: residual along track
  var L = axesBox(xDist, y, distTicks, row.ticks);
  dots(L.g, L.clip, row.along, xDist, y, "#000");
  frame(xDist, y, distTicks, row.ticks);

  // right: residual vs r(pH)
  var R = axesBox(xPh, y, phTicks, row.ticks);
  dots(R.g, R.clip, row.vs, xPh, y, blue);
  R.g.append("path").attr("clip-path", R.clip)
    .attr("d", d3.line().x(function(d) { return xPh(d[0]); }).y(function(d) { return y(d[1]); })(row.fit))
    .attr("stroke", "#000").attr("stroke-width", 1).attr("fill", "none");
  frame(xPh, y, phTicks, row.ticks);

  // y tick labels
  svg.append("g").selectAll("text").data(row.ticks).join("text")
    .attr("x", 62).attr("y", function(d) { return y(d); }).attr("dy", "0.36em")
    .attr("text-anchor", "end").attr("font-size", 16).attr("font-weight", "bold")
    .attr("fill", tickTxt).text(function(d) { return String(d); });

  // y label
  var cy = (y.range()[0] + y.range()[1]) / 2;
  svg.append("text").attr("transform", "translate(33," + cy + ") rotate(-90)")
    .attr("text-anchor", "middle").attr("font-size", 18).attr("font-weight", "bold")
    .attr("fill", tickTxt).text(yLabels[i]);

  // panel tags
  var top = y.range()[1];
  svg.append("text").attr("x", 74).attr("y", top + 29).attr("font-size", 16)
    .attr("font-weight", "bold").attr("fill", blue).text(tagsLeft[i]);
  svg.append("text").attr("x", 767).attr("y", top + 28).attr("font-size", 16)
    .attr("font-weight", "bold").attr("fill", blue).text(tagsRight[i]);
});

// x tick labels (bottom row only)
svg.append("g").selectAll("text").data(distTicks).join("text")
  .attr("x", function(d) { return xDist(d); }).attr("y", 603)
  .attr("text-anchor", "middle").attr("font-size", 16).attr("font-weight", "bold")
  .attr("fill", tickTxt).text(function(d) { return String(d); });
svg.append("g").selectAll("text").data(phTicks).join("text")
  .attr("x", function(d) { return xPh(d); }).attr("y", 603)
  .attr("text-anchor", "middle").attr("font-size", 16).attr("font-weight", "bold")
  .attr("fill", tickTxt).text(function(d) { return String(d); });

svg.append("text").attr("x", 403.5).attr("y", 625).attr("text-anchor", "middle")
  .attr("font-size", 18).attr("font-weight", "bold").attr("fill", tickTxt)
  .text("Distance Along Track (km)");
var phLab = svg.append("text").attr("x", 924).attr("y", 624).attr("text-anchor", "middle")
  .attr("font-size", 17).attr("font-weight", "bold").attr("fill", tickTxt);
phLab.append("tspan").text("r(pH");
phLab.append("tspan").attr("font-size", 12).attr("dy", 4).text("T");
phLab.append("tspan").attr("dy", -4).text(")");

// titles
var t1 = svg.append("text").attr("x", 404).attr("y", 46).attr("text-anchor", "middle")
  .attr("font-size", 18).attr("font-weight", "bold").attr("fill", "#000");
t1.append("tspan").text("Dissolved Oxygen (");
t1.append("tspan").attr("font-style", "italic").attr("font-weight", "normal").text("\u03bc");
t1.append("tspan").text("molkg");
t1.append("tspan").attr("font-size", 12).attr("dy", -8).text("-1");
t1.append("tspan").attr("dy", 8).text(")");
svg.append("text").attr("x", 404).attr("y", 236).attr("text-anchor", "middle")
  .attr("font-size", 18).attr("font-weight", "bold").attr("fill", "#000").text("Temperature \u00b0C");
svg.append("text").attr("x", 404).attr("y", 428).attr("text-anchor", "middle")
  .attr("font-size", 18).attr("font-weight", "bold").attr("fill", "#000").text("Salinity (PSU)");

// legend in (a)
var lg = svg.append("g");
lg.append("rect").attr("x", 569.5).attr("y", 24.5).attr("width", 169).attr("height", 28)
  .attr("fill", "#fff").attr("stroke", "#555");
lg.append("circle").attr("cx", 588).attr("cy", 38).attr("r", 4).attr("fill", "#000").attr("fill-opacity", 0.5);
var lt = lg.append("text").attr("x", 605).attr("y", 42).attr("font-size", 16)
  .attr("font-weight", "bold").attr("fill", "#000");
lt.append("tspan").text("r(x) = x");
lt.append("tspan").attr("font-size", 12).attr("dy", 4).text("i-CTD");
lt.append("tspan").attr("dy", -4).text(" - x");
lt.append("tspan").attr("font-size", 12).attr("dy", 4).text("ALR");

// R^2 legends
var r2Boxes = [[988, 160, 97, 27], [981, 354, 104, 26], [981, 545, 104, 27]];
r2Boxes.forEach(function(b, i) {
  var g = svg.append("g");
  g.append("rect").attr("x", b[0] + 0.5).attr("y", b[1] + 0.5).attr("width", b[2]).attr("height", b[3])
    .attr("fill", "#fff").attr("stroke", "#555");
  var cx = i === 0 ? b[0] + 19 : b[0] + 17;
  g.append("circle").attr("cx", cx).attr("cy", b[1] + b[3] / 2 + 0.5).attr("r", 4)
    .attr("fill", blue).attr("fill-opacity", 0.5);
  var t = g.append("text").attr("x", cx + 20).attr("y", b[1] + b[3] / 2 + 7)
    .attr("font-size", 16).attr("font-weight", "bold").attr("fill", "#000");
  t.append("tspan").text("R");
  t.append("tspan").attr("font-size", 11).attr("dy", -7).text("2");
  t.append("tspan").attr("dy", 7).text(" = " + r2Values[i]);
});
</script>
</body>
</html>
